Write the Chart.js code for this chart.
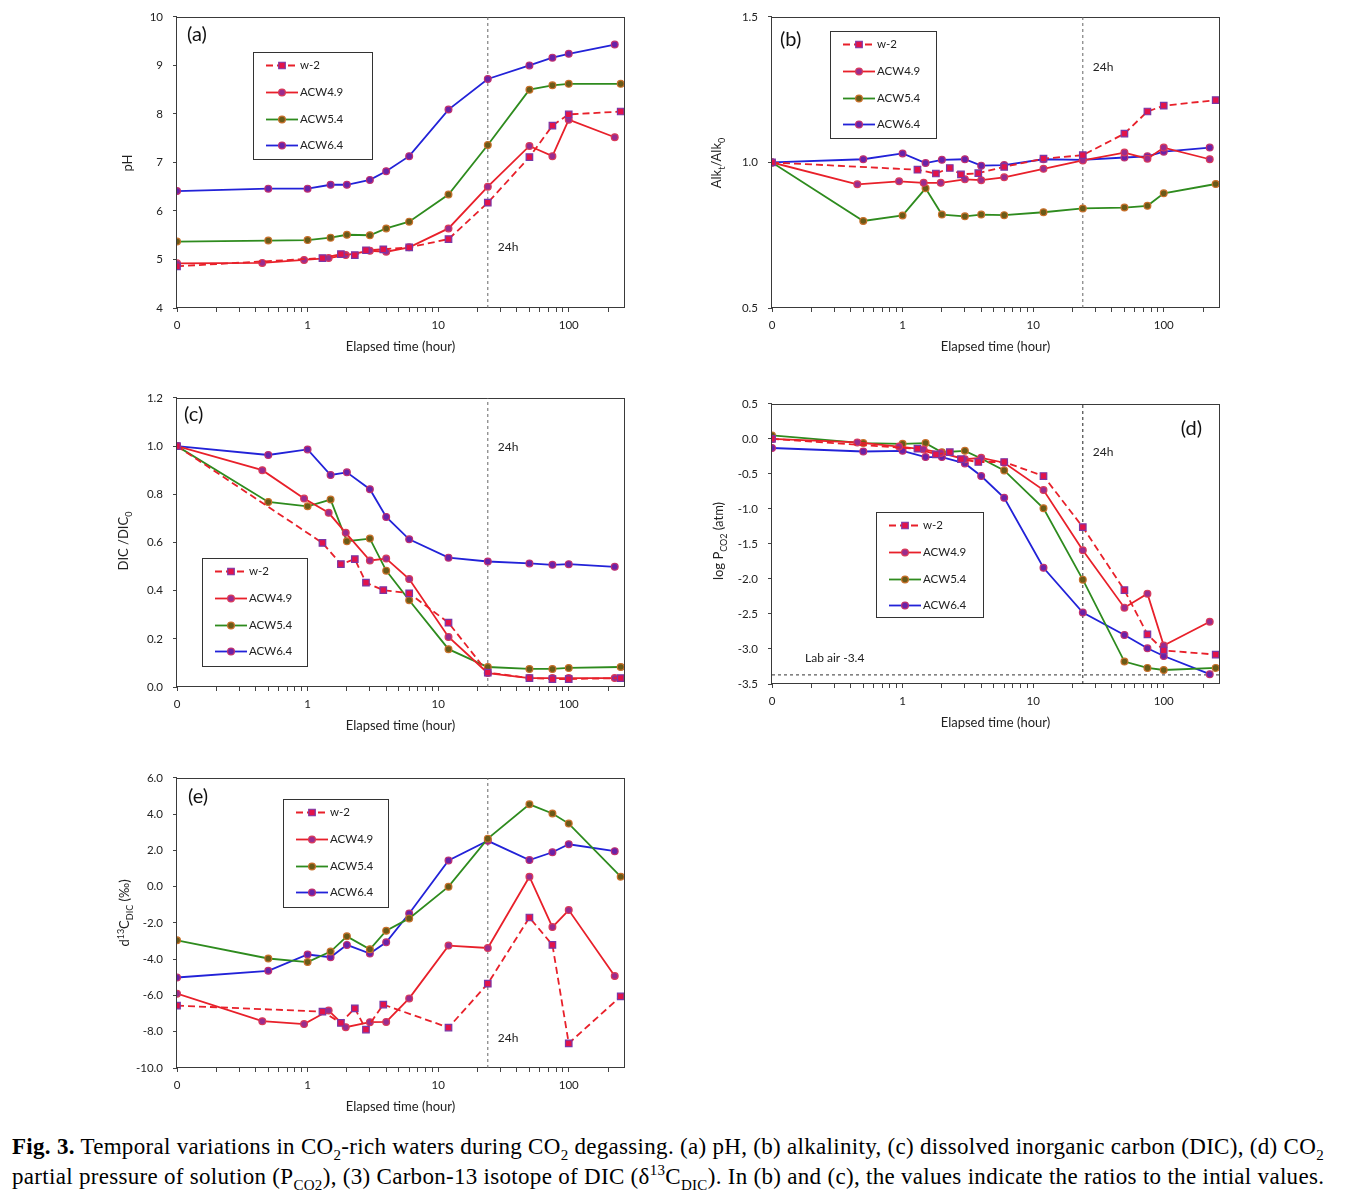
<!DOCTYPE html>
<html>
<head>
<meta charset="utf-8">
<title>Fig. 3 - CO2 degassing</title>
<script src="https://cdn.jsdelivr.net/npm/chart.js@4.4.1/dist/chart.umd.min.js"></script>
<style>
    body { margin: 0; background: #fff; width: 1346px; height: 1195px; position: relative; overflow: hidden; }
    canvas { position: absolute; }
    .ytitle { position: absolute; font: 13px Lato, sans-serif; color: #222; white-space: nowrap; line-height: 1;
              transform: translate(-50%, -50%) rotate(-90deg); }
    .ytitle sub, .ytitle sup { font-size: 9px; }
    #caption { position: absolute; left: 12px; top: 1132px; font: 23px "Liberation Serif", serif; line-height: 30px;
               letter-spacing: 0.3px; color: #000; white-space: nowrap; }
    #caption sub, #caption sup { font-size: 15px; line-height: 0; }
</style>
</head>
<body>
<canvas id="chartA" width="534" height="358" style="left:100px; top:0px;"></canvas>
<canvas id="chartB" width="534" height="358" style="left:695px; top:0px;"></canvas>
<canvas id="chartC" width="534" height="356" style="left:100px; top:381px;"></canvas>
<canvas id="chartD" width="534" height="347" style="left:695px; top:387px;"></canvas>
<canvas id="chartE" width="534" height="357" style="left:100px; top:761px;"></canvas>

<div class="ytitle" style="left:127px; top:163px;">pH</div>
<div class="ytitle" style="left:718px; top:163px;">Alk<sub>t</sub>/Alk<sub>0</sub></div>
<div class="ytitle" style="left:125px; top:541px;">DIC /DIC<sub>0</sub></div>
<div class="ytitle" style="left:720px; top:541px;">log P<sub>CO2</sub> (atm)</div>
<div class="ytitle" style="left:125px; top:913px;">d<sup>13</sup>C<sub>DIC</sub> (‰)</div>

<div id="caption"><b>Fig. 3.</b> Temporal variations in CO<sub>2</sub>-rich waters during CO<sub>2</sub> degassing. (a) pH, (b) alkalinity, (c) dissolved inorganic carbon (DIC), (d) CO<sub>2</sub><br>partial pressure of solution (P<sub>CO2</sub>), (3) Carbon-13 isotope of DIC (δ<sup>13</sup>C<sub>DIC</sub>). In (b) and (c), the values indicate the ratios to the intial values.</div>

<script>
// elapsed time (hour) of every sample
const timeW2 = [0, 1.3, 1.8, 2.3, 2.8, 3.8, 6, 12, 24, 50, 75, 100, 250];
const timeW2Isotope = [0, 1.3, 1.8, 2.3, 2.8, 3.8, 12, 24, 50, 75, 100, 250];
const timeAcw49 = [0, 0.45, 0.94, 1.45, 1.96, 3, 4, 6, 12, 24, 50, 75, 100, 225];
const timeAcw54 = [0, 0.5, 1, 1.5, 2, 3, 4, 6, 12, 24, 50, 75, 100, 250];
const timeAcw64 = [0, 0.5, 1, 1.5, 2, 3, 4, 6, 12, 24, 50, 75, 100, 225];

// (a) pH
const phW2 = [4.86, 5.03, 5.11, 5.09, 5.19, 5.21, 5.25, 5.42, 6.17, 7.11, 7.76, 7.99, 8.05];
const phAcw49 = [4.92, 4.93, 4.99, 5.03, 5.09, 5.18, 5.16, 5.25, 5.64, 6.50, 7.34, 7.13, 7.88, 7.52];
const phAcw54 = [5.37, 5.39, 5.40, 5.45, 5.51, 5.50, 5.64, 5.78, 6.34, 7.36, 8.50, 8.59, 8.62, 8.62];
const phAcw64 = [6.41, 6.46, 6.46, 6.54, 6.54, 6.64, 6.82, 7.13, 8.09, 8.72, 9.00, 9.16, 9.24, 9.43];

// (b) Alk/Alk0
const alkW2 = [1.0, 0.975, 0.962, 0.981, 0.959, 0.963, 0.985, 1.013, 1.025, 1.099, 1.175, 1.195, 1.214];
const alkAcw49 = [1.0, 0.925, 0.935, 0.930, 0.930, 0.942, 0.939, 0.949, 0.978, 1.007, 1.034, 1.013, 1.051, 1.011];
const alkAcw54 = [1.0, 0.799, 0.818, 0.911, 0.821, 0.815, 0.821, 0.819, 0.829, 0.842, 0.845, 0.851, 0.894, 0.926];
const alkAcw64 = [1.0, 1.011, 1.031, 0.998, 1.009, 1.011, 0.989, 0.991, 1.011, 1.009, 1.017, 1.021, 1.037, 1.051];

// (c) DIC/DIC0
const dicW2 = [1.0, 0.598, 0.510, 0.531, 0.433, 0.402, 0.389, 0.267, 0.060, 0.037, 0.033, 0.033, 0.037];
const dicAcw49 = [1.0, 0.900, 0.782, 0.723, 0.640, 0.525, 0.533, 0.448, 0.208, 0.058, 0.037, 0.037, 0.037, 0.037];
const dicAcw54 = [1.0, 0.768, 0.750, 0.778, 0.605, 0.616, 0.483, 0.360, 0.157, 0.083, 0.075, 0.075, 0.079, 0.083];
const dicAcw64 = [1.0, 0.963, 0.986, 0.880, 0.891, 0.821, 0.706, 0.613, 0.537, 0.521, 0.513, 0.507, 0.510, 0.499];

// (d) log PCO2
const pco2W2 = [0.0, -0.14, -0.22, -0.19, -0.29, -0.33, -0.33, -0.53, -1.26, -2.16, -2.79, -3.02, -3.08];
const pco2Acw49 = [0.0, -0.05, -0.11, -0.15, -0.20, -0.29, -0.27, -0.34, -0.73, -1.59, -2.41, -2.21, -2.95, -2.61];
const pco2Acw54 = [0.05, -0.06, -0.07, -0.06, -0.19, -0.17, -0.28, -0.45, -0.99, -2.01, -3.18, -3.27, -3.30, -3.27];
const pco2Acw64 = [-0.13, -0.18, -0.17, -0.26, -0.26, -0.35, -0.53, -0.84, -1.84, -2.48, -2.80, -2.99, -3.10, -3.36];

// (e) d13C of DIC
const d13cW2 = [-6.56, -6.89, -7.51, -6.71, -7.88, -6.50, -7.77, -5.35, -1.70, -3.21, -8.64, -6.05];
const d13cAcw49 = [-5.90, -7.42, -7.58, -6.83, -7.75, -7.47, -7.46, -6.16, -3.25, -3.38, 0.55, -2.23, -1.29, -4.93];
const d13cAcw54 = [-2.96, -3.96, -4.16, -3.58, -2.74, -3.45, -2.43, -1.75, 0.0, 2.65, 4.54, 4.04, 3.48, 0.55];
const d13cAcw64 = [-5.01, -4.64, -3.74, -3.89, -3.21, -3.69, -3.07, -1.48, 1.45, 2.53, 1.47, 1.90, 2.34, 1.96];

// x axis (log, time 0 is drawn at 0.1)
const zeroTimeAt = 0.1;
const xMax = 265;
const xMajorTicks = [0.1, 1, 10, 100];
const xTickLabels = ['0', '1', '10', '100'];
const xMinorTicks = [0.2, 0.3, 0.4, 0.5, 0.6, 0.7, 0.8, 0.9, 2, 3, 4, 5, 6, 7, 8, 9,
                     20, 30, 40, 50, 60, 70, 80, 90, 200];
const markTime = 24;          // 24h dashed line
const labAirLogPco2 = -3.37;  // lab air dashed line in (d)

const seriesStyles = {
    w2:    { label: 'w-2',    line: '#E8202A', dash: [7, 4], marker: 'rect',   radius: 4.6, fill: '#E2134B', edge: '#7B36A6' },
    acw49: { label: 'ACW4.9', line: '#E8202A', dash: [],     marker: 'circle', radius: 3.4, fill: '#9A2C8E', edge: '#DA3A5A' },
    acw54: { label: 'ACW5.4', line: '#2E8B1E', dash: [],     marker: 'circle', radius: 3.4, fill: '#6A5A18', edge: '#C8702A' },
    acw64: { label: 'ACW6.4', line: '#2222D8', dash: [],     marker: 'circle', radius: 3.4, fill: '#6A22A8', edge: '#C03070' }
};
const legendOrder = ['w2', 'acw49', 'acw54', 'acw64'];

const panels = [
    { canvas: 'chartA', letter: '(a)', letterAt: [10, 18], yMin: 4, yMax: 10, yStep: 1, digits: 0,
      legendAt: [76, 35, 119, 107], hourLabelY: 5.25,
      series: { w2: [timeW2, phW2], acw49: [timeAcw49, phAcw49], acw54: [timeAcw54, phAcw54], acw64: [timeAcw64, phAcw64] } },
    { canvas: 'chartB', letter: '(b)', letterAt: [8, 23], yMin: 0.5, yMax: 1.5, yStep: 0.5, digits: 1,
      legendAt: [58, 14, 106, 107], hourLabelY: 1.326,
      series: { w2: [timeW2, alkW2], acw49: [timeAcw49, alkAcw49], acw54: [timeAcw54, alkAcw54], acw64: [timeAcw64, alkAcw64] } },
    { canvas: 'chartC', letter: '(c)', letterAt: [7, 17], yMin: 0, yMax: 1.2, yStep: 0.2, digits: 1,
      legendAt: [25, 160, 105, 108], hourLabelY: 0.994,
      series: { w2: [timeW2, dicW2], acw49: [timeAcw49, dicAcw49], acw54: [timeAcw54, dicAcw54], acw64: [timeAcw64, dicAcw64] } },
    { canvas: 'chartD', letter: '(d)', letterRight: [17, 25], yMin: -3.5, yMax: 0.5, yStep: 0.5, digits: 1,
      legendAt: [104, 108, 107, 105], hourLabelY: -0.195, labAir: true,
      series: { w2: [timeW2, pco2W2], acw49: [timeAcw49, pco2Acw49], acw54: [timeAcw54, pco2Acw54], acw64: [timeAcw64, pco2Acw64] } },
    { canvas: 'chartE', letter: '(e)', letterAt: [11, 19], yMin: -10, yMax: 6, yStep: 2, digits: 1,
      legendAt: [106, 21, 105, 108], hourLabelY: -8.36,
      series: { w2: [timeW2Isotope, d13cW2], acw49: [timeAcw49, d13cAcw49], acw54: [timeAcw54, d13cAcw54], acw64: [timeAcw64, d13cAcw64] } }
];

Chart.defaults.font.family = 'Lato, sans-serif';
Chart.defaults.color = '#222';

function toPoints(times, values) {
    return times.map((t, i) => ({ x: t === 0 ? zeroTimeAt : t, y: values[i] }));
}

function makeDataset(key, times, values) {
    const st = seriesStyles[key];
    return {
        label: st.label,
        data: toPoints(times, values),
        borderColor: st.line,
        borderDash: st.dash,
        borderWidth: 1.8,
        pointStyle: st.marker,
        pointRadius: st.radius,
        pointBackgroundColor: st.fill,
        pointBorderColor: st.edge,
        pointBorderWidth: 1.2,
        tension: 0
    };
}

function refLine(points, color, dash) {
    return { label: 'ref', data: points, borderColor: color, borderDash: dash, borderWidth: 1,
             pointRadius: 0, tension: 0 };
}

function drawMarker(ctx, st, x, y) {
    ctx.save();
    ctx.setLineDash([]);
    ctx.fillStyle = st.fill;
    ctx.strokeStyle = st.edge;
    ctx.lineWidth = 1.2;
    ctx.beginPath();
    if (st.marker === 'rect') {
        const s = st.radius * Math.SQRT1_2;
        ctx.rect(x - s, y - s, 2 * s, 2 * s);
    } else {
        ctx.arc(x, y, st.radius, 0, Math.PI * 2);
    }
    ctx.fill();
    ctx.stroke();
    ctx.restore();
}

const panelDecor = {
    id: 'panelDecor',
    beforeDatasetsDraw(chart) {
        const { ctx, chartArea: a } = chart;
        ctx.save();
        ctx.strokeStyle = '#3a3a3a';
        ctx.lineWidth = 1;
        ctx.strokeRect(Math.round(a.left) - 0.5, Math.round(a.top) + 0.5,
                       Math.round(a.right - a.left) + 1, Math.round(a.bottom - a.top) - 1);
        ctx.restore();
    },
    afterDatasetsDraw(chart, args, opts) {
        const p = opts.panel;
        const { ctx, chartArea: a, scales: { x, y } } = chart;
        ctx.save();
        // panel letter
        ctx.fillStyle = '#111';
        ctx.font = '20px Lato, sans-serif';
        ctx.textBaseline = 'middle';
        if (p.letterRight) {
            ctx.textAlign = 'right';
            ctx.fillText(p.letter, a.right - p.letterRight[0], a.top + p.letterRight[1]);
        } else {
            ctx.textAlign = 'left';
            ctx.fillText(p.letter, a.left + p.letterAt[0], a.top + p.letterAt[1]);
        }
        // 24h label
        ctx.font = '12px Lato, sans-serif';
        ctx.fillStyle = '#222';
        ctx.textAlign = 'left';
        ctx.fillText('24h', x.getPixelForValue(markTime) + 10, y.getPixelForValue(p.hourLabelY));
        if (p.labAir) {
            ctx.fillText('Lab air -3.4', a.left + 33, y.getPixelForValue(-3.13));
        }
        // legend box
        const [lx, ly, lw, lh] = p.legendAt;
        const bx = a.left + lx, by = a.top + ly;
        ctx.fillStyle = '#fff';
        ctx.fillRect(bx, by, lw, lh);
        ctx.strokeStyle = '#333';
        ctx.lineWidth = 1;
        ctx.strokeRect(Math.round(bx) + 0.5, Math.round(by) + 0.5, lw, lh);
        ctx.font = '11.5px Lato, sans-serif';
        legendOrder.forEach((key, i) => {
            const st = seriesStyles[key];
            const rowY = Math.round(by + 13 + i * 26.8) + 0.5;
            ctx.strokeStyle = st.line;
            ctx.lineWidth = 1.8;
            ctx.setLineDash(st.dash);
            ctx.beginPath();
            ctx.moveTo(bx + 13, rowY);
            ctx.lineTo(bx + 45, rowY);
            ctx.stroke();
            drawMarker(ctx, st, bx + 29, rowY);
            ctx.fillStyle = '#222';
            ctx.textAlign = 'left';
            ctx.fillText(st.label, bx + 47, rowY);
        });
        ctx.restore();
    }
};

panels.forEach(p => {
    const datasets = legendOrder.map(key => makeDataset(key, p.series[key][0], p.series[key][1]));
    datasets.push(refLine([{ x: markTime, y: p.yMin }, { x: markTime, y: p.yMax }],
                          p.labAir ? '#222' : '#666', [3, 3]));
    if (p.labAir) {
        datasets.push(refLine([{ x: zeroTimeAt, y: labAirLogPco2 }, { x: xMax, y: labAirLogPco2 }], '#333', [3, 3]));
    }
    new Chart(document.getElementById(p.canvas).getContext('2d'), {
        type: 'line',
        data: { datasets: datasets },
        options: {
            responsive: false,
            animation: false,
            layout: { padding: { top: 15, right: 10, left: 0, bottom: 0 } },
            plugins: {
                legend: { display: false },
                tooltip: { enabled: false },
                panelDecor: { panel: p }
            },
            scales: {
                x: {
                    type: 'logarithmic',
                    min: zeroTimeAt,
                    max: xMax,
                    afterBuildTicks: scale => {
                        scale.ticks = xMajorTicks.concat(xMinorTicks).sort((m, n) => m - n).map(v => ({ value: v }));
                    },
                    afterFit: scale => { scale.height = 50; },
                    grid: { drawOnChartArea: false, drawTicks: true, tickLength: 4, color: '#444' },
                    border: { display: false },
                    ticks: {
                        autoSkip: false, maxRotation: 0, minRotation: 0, padding: 6,
                        font: { size: 11.5 }, color: '#222',
                        callback: value => {
                            const i = xMajorTicks.indexOf(value);
                            return i >= 0 ? xTickLabels[i] : '';
                        }
                    },
                    title: { display: true, text: 'Elapsed time (hour)', font: { size: 13 }, color: '#222',
                             padding: { top: 0, bottom: 3 } }
                },
                y: {
                    type: 'linear',
                    min: p.yMin,
                    max: p.yMax,
                    afterFit: scale => { scale.width = 77; },
                    grid: { drawOnChartArea: false, drawTicks: true, tickLength: 4, color: '#444' },
                    border: { display: false },
                    ticks: {
                        stepSize: p.yStep, padding: 10, font: { size: 11.5 }, color: '#222',
                        callback: value => Number(value).toFixed(p.digits)
                    }
                }
            }
        },
        plugins: [panelDecor]
    });
});
</script>
</body>
</html>
